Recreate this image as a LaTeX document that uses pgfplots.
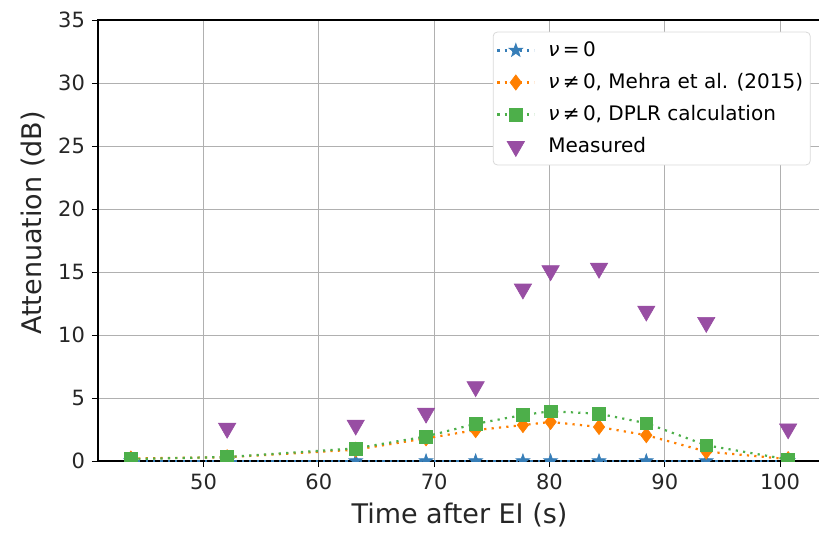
\documentclass[border=0pt]{standalone}
\usepackage{fontspec}
\setmainfont{DejaVu Sans}
\usepackage{pgfplots}
\pgfplotsset{compat=1.18}
\usetikzlibrary{plotmarks}
\definecolor{cblue}{HTML}{377EB8}
\definecolor{corange}{HTML}{FF7F00}
\definecolor{cgreen}{HTML}{4DAF4A}
\definecolor{cpurple}{HTML}{984EA3}
\definecolor{gridgray}{HTML}{B0B0B0}
\pgfdeclareplotmark{fstar}{%
  \pgfpathmoveto{\pgfpointpolar{90}{\pgfplotmarksize}}%
  \pgfpathlineto{\pgfpointpolar{126}{0.4\pgfplotmarksize}}%
  \pgfpathlineto{\pgfpointpolar{162}{\pgfplotmarksize}}%
  \pgfpathlineto{\pgfpointpolar{198}{0.4\pgfplotmarksize}}%
  \pgfpathlineto{\pgfpointpolar{234}{\pgfplotmarksize}}%
  \pgfpathlineto{\pgfpointpolar{270}{0.4\pgfplotmarksize}}%
  \pgfpathlineto{\pgfpointpolar{306}{\pgfplotmarksize}}%
  \pgfpathlineto{\pgfpointpolar{342}{0.4\pgfplotmarksize}}%
  \pgfpathlineto{\pgfpointpolar{18}{\pgfplotmarksize}}%
  \pgfpathlineto{\pgfpointpolar{54}{0.4\pgfplotmarksize}}%
  \pgfpathclose
  \pgfusepathqfillstroke}
\begin{document}
\begin{tikzpicture}
\path[use as bounding box] (-49pt,-35.5pt) rectangle (360.5pt,230.5pt);
\begin{axis}[
  scale only axis, width=361.5pt, height=220.5pt,
  at={(0,0)}, anchor=south west,
  xmin=40.85, xmax=103.55, ymin=0, ymax=35,
  xtick={50,60,70,80,90,100}, ytick={0,5,10,15,20,25,30,35},
  xtick pos=left, ytick pos=left, tick align=outside,
  major tick length=3pt,
  every tick/.style={black, line width=0.5pt},
  grid=major,
  major grid style={gridgray, line width=0.5pt},
  axis line style={black, line width=0.6pt},
  /pgf/number format/assume math mode=true,
  tick label style={font=\fontsize{10.5}{12}\selectfont, text=black!85},
  xlabel={Time after EI (s)},
  ylabel={Attenuation (dB)},
  every axis x label/.style={at={(axis description cs:0.5,-0.1224)}, anchor=center,
    font=\fontsize{13.5}{16}\selectfont, text=black!85},
  every axis y label/.style={at={(axis description cs:-0.0899,0.54)}, rotate=90, anchor=center,
    font=\fontsize{13.5}{16}\selectfont, text=black!85},
  clip marker paths=true,
  legend cell align=left,
  legend style={at={(axis description cs:0.9856,0.9735)}, anchor=north east,
    font=\fontsize{10}{12}\selectfont, draw=black!15, rounded corners=2pt,
    fill=white,
    inner xsep=1.5pt, inner ysep=2pt, row sep=1.6pt,
    nodes={inner sep=2pt, text height=8pt, text depth=2.4pt}},
  legend image code/.code={\draw[mark repeat=2,mark phase=2,#1] plot coordinates {(0pt,0pt) (9.25pt,0pt) (18.5pt,0pt)};
    \path (23pt,0pt);},
]
\addplot[cblue, line width=1.1pt, dash pattern=on 1.1pt off 2.6pt, mark=fstar,
  mark size=3.6pt, mark options={solid, line width=0.3pt}]
  coordinates {(43.7,0) (52.05,0) (63.2,0) (69.3,0) (73.6,0) (77.7,0) (80.1,0) (84.3,0) (88.4,0) (93.6,0) (100.7,0)};
\addlegendentry{\textit{ν}\,=\,0}
\addplot[corange, line width=1.1pt, dash pattern=on 1.1pt off 2.6pt, mark=diamond*,
  mark size=3.8pt, mark options={solid, line width=0.3pt}]
  coordinates {(43.7,0.2) (52.05,0.3) (63.2,0.9) (69.3,1.8) (73.6,2.45) (77.7,2.85) (80.1,3.1) (84.3,2.7) (88.4,2.05) (93.6,0.75) (100.7,0.15)};
\addlegendentry{\textit{ν}\,≠\,0, Mehra et al. (2015)}
\addplot[cgreen, line width=1.1pt, dash pattern=on 1.1pt off 2.6pt, mark=square*,
  mark size=3.2pt, mark options={solid, line width=0.3pt}]
  coordinates {(43.7,0.15) (52.05,0.32) (63.2,1.0) (69.3,1.95) (73.6,2.95) (77.7,3.65) (80.1,3.95) (84.3,3.75) (88.4,3.0) (93.6,1.25) (100.7,0.12)};
\addlegendentry{\textit{ν}\,≠\,0, DPLR calculation}
\addplot[only marks, mark=triangle*, mark size=5pt, cpurple,
  mark options={rotate=180, line width=0.3pt}]
  coordinates {(52.05,2.6) (63.2,2.85) (69.3,3.8) (73.6,5.9) (77.7,13.65) (80.1,15.1) (84.3,15.3) (88.4,11.9) (93.6,11.0) (100.7,2.55)};
\addlegendentry{Measured}
\end{axis}
\end{tikzpicture}
\end{document}
